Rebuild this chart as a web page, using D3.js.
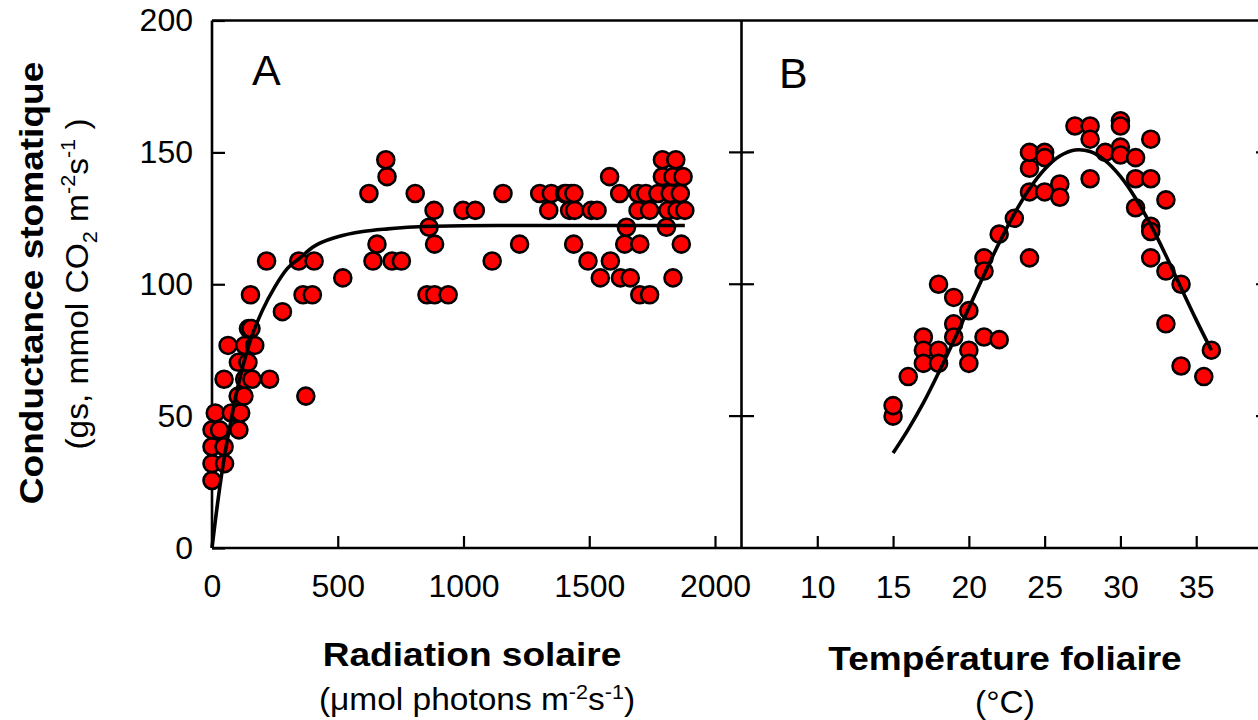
<!DOCTYPE html>
<html lang="fr">
<head>
<meta charset="utf-8">
<title>Conductance stomatique</title>
<script src="https://cdn.jsdelivr.net/npm/d3@7"></script>
<style>
  body { margin: 0; background: #fff; }
  text { font-family: "Liberation Sans", Arial, sans-serif; fill: #000; }
  .frame { stroke: #000; stroke-width: 2.6px; fill: none; }
  .tick line, .crosstick { stroke: #000; stroke-width: 2.2px; }
  .tick text { font-size: 32px; }
  .dot { fill: #ff0000; stroke: #000; stroke-width: 2.6px; }
  .fit { fill: none; stroke: #000; stroke-width: 3.6px; }
  .title { font-weight: bold; font-size: 34px; }
  .sub { font-size: 31px; }
  .panel { font-size: 43px; }
</style>
</head>
<body>
<script>

var width = 1258,
    height = 720;

// axis ticks
var yTicks = [0, 50, 100, 150, 200];
var radTicks = [0, 500, 1000, 1500, 2000];
var tempTicks = [10, 15, 20, 25, 30, 35];
var crossTicks = [50, 100, 150];

// panel A : radiation solaire vs gs
var radPoints = [
  [0,25.6],[0,32],[50,32],[0,38.4],[48,38.4],[0,44.8],[30,44.8],[107,44.8],
  [13,51.2],[77,51.2],[114,51.2],[104,57.6],[127,57.6],[373,57.6],
  [48,64],[130,64],[159,64],[229,64],[105,70.4],[143,70.4],
  [64,76.8],[130,76.8],[170,76.8],[145,83.2],[155,83.2],[280,89.6],
  [153,96],[362,96],[399,96],[855,96],[885,96],[939,96],[1701,96],[1740,96],
  [520,102.4],[1544,102.4],[1624,102.4],[1663,102.4],[1833,102.4],
  [217,108.8],[345,108.8],[406,108.8],[640,108.8],[716,108.8],[753,108.8],[1114,108.8],[1495,108.8],[1584,108.8],
  [656,115.2],[885,115.2],[1223,115.2],[1438,115.2],[1641,115.2],[1701,115.2],[1866,115.2],
  [863,121.6],[1648,121.6],[1807,121.6],
  [883,128],[998,128],[1047,128],[1339,128],[1422,128],[1442,128],[1508,128],[1531,128],
  [1694,128],[1740,128],[1813,128],[1849,128],[1880,128],
  [624,134.4],[808,134.4],[1157,134.4],[1303,134.4],[1349,134.4],[1402,134.4],[1429,134.4],
  [1409,134.4],[1439,134.4],[1621,134.4],[1694,134.4],[1725,134.4],[1773,134.4],[1822,134.4],[1862,134.4],
  [696,140.8],[1581,140.8],[1791,140.8],[1833,140.8],[1873,140.8],
  [691,147.2],[1791,147.2],[1844,147.2]
];

var radFit = [
  [0,0],[25,19],[50,35],[75,48],[100,60],[150,78],[200,90],[250,99],[300,106],
  [350,110],[400,114],[500,118],[600,120],[700,121],[800,121.7],[1000,122.2],
  [1200,122.3],[1500,122.3],[1880,122.3]
];

// panel B : temperature foliaire vs gs
var tempPoints = [
  [15,50],[15,54],[16,65],[17,80],[17,75],[17,70],[18,75],[18,70],[18,100],
  [19,95],[19,85],[19,80],[20,90],[20,75],[20,70],[21,110],[21,105],[21,80],
  [22,79],[22,119],[23,125],[24,110],[24,135],[24,144],[24,150],[25,150],[25,148],
  [25,135],[26,138],[26,133],[27,160],[28,160],[28,155],[28,140],[29,150],
  [30,162],[30,160],[30,152],[30,149],[31,148],[31,140],[31,129],
  [32,155],[32,140],[32,122],[32,120],[32,110],[33,132],[33,105],[33,85],
  [34,100],[34,69],[35.5,65],[36,75]
];

var tempFit = [
  [15,36],[16,45],[17,55],[18,66.4],[19,78.5],[20,91],[21,103.6],[22,115.7],
  [23,126.7],[24,136.2],[25,143.6],[26,148.6],[27,150.9],[28,150.3],[29,146.9],
  [30,140.9],[31,132.6],[32,122.5],[33,110.9],[34,98.6],[35,86.5],[36,75]
];

var svg = d3.select("body")
  .append("svg")
  .attr("width", width)
  .attr("height", height);

svg.append("rect").attr("width", width).attr("height", height).attr("fill", "#fff");

// scales
var y = d3.scaleLinear().domain([0, 200]).range([548, 20.5]);
var xA = d3.scaleLinear().domain([0, 2000]).range([212, 715]);
var xB = d3.scaleLinear().domain([5, 40]).range([741.5, 1272]);

var fmt = d3.format("d");

// axes
svg.append("g")
  .attr("transform", "translate(" + xA(0) + ",0)")
  .call(d3.axisLeft(y).tickValues(yTicks).tickFormat(fmt).tickSizeInner(-13).tickSizeOuter(0).tickPadding(19))
  .call(function(g) { g.select(".domain").remove(); });

svg.append("g")
  .attr("transform", "translate(0," + y(0) + ")")
  .call(d3.axisBottom(xA).tickValues(radTicks).tickFormat(fmt).tickSizeInner(-12).tickSizeOuter(0).tickPadding(26))
  .call(function(g) { g.select(".domain").remove(); });

svg.append("g")
  .attr("transform", "translate(0," + y(0) + ")")
  .call(d3.axisBottom(xB).tickValues(tempTicks).tickFormat(fmt).tickSizeInner(-12).tickSizeOuter(0).tickPadding(27))
  .call(function(g) { g.select(".domain").remove(); });

// ticks crossing the middle and right vertical lines
svg.selectAll(".midtick")
  .data(crossTicks)
  .enter()
  .append("line")
  .attr("class", "crosstick")
  .attr("x1", xB(5) - 12.5)
  .attr("x2", xB(5) + 12.5)
  .attr("y1", function(d) { return y(d); })
  .attr("y2", function(d) { return y(d); });

svg.selectAll(".righttick")
  .data(crossTicks)
  .enter()
  .append("line")
  .attr("class", "crosstick")
  .attr("x1", xB(40) - 16)
  .attr("x2", xB(40) + 12)
  .attr("y1", function(d) { return y(d); })
  .attr("y2", function(d) { return y(d); });

// frame
var xEdges = [xA(0), xB(5), xB(40)];
svg.selectAll(".vline")
  .data(xEdges)
  .enter()
  .append("line")
  .attr("class", "frame")
  .attr("x1", function(d) { return d; })
  .attr("x2", function(d) { return d; })
  .attr("y1", y(0))
  .attr("y2", y(200));

svg.selectAll(".hline")
  .data([0, 200])
  .enter()
  .append("line")
  .attr("class", "frame")
  .attr("x1", xA(0))
  .attr("x2", xB(40))
  .attr("y1", function(d) { return y(d); })
  .attr("y2", function(d) { return y(d); });

// points
svg.append("g")
  .selectAll("circle")
  .data(radPoints)
  .enter()
  .append("circle")
  .attr("class", "dot")
  .attr("cx", function(d) { return xA(d[0]); })
  .attr("cy", function(d) { return y(d[1]); })
  .attr("r", 8.5);

svg.append("g")
  .selectAll("circle")
  .data(tempPoints)
  .enter()
  .append("circle")
  .attr("class", "dot")
  .attr("cx", function(d) { return xB(d[0]); })
  .attr("cy", function(d) { return y(d[1]); })
  .attr("r", 8.5);

// fitted curves
var lineA = d3.line()
  .x(function(d) { return xA(d[0]); })
  .y(function(d) { return y(d[1]); })
  .curve(d3.curveMonotoneX);

var lineB = d3.line()
  .x(function(d) { return xB(d[0]); })
  .y(function(d) { return y(d[1]); })
  .curve(d3.curveCatmullRom);

svg.append("path").attr("class", "fit").attr("d", lineA(radFit));
svg.append("path").attr("class", "fit").attr("d", lineB(tempFit));

// panel letters
svg.append("text").attr("class", "panel").attr("x", 252).attr("y", 85).text("A");
svg.append("text").attr("class", "panel").attr("x", 779).attr("y", 88).text("B");

// axis titles
svg.append("text")
  .attr("class", "title")
  .attr("text-anchor", "middle")
  .attr("transform", "translate(43,283) rotate(-90) scale(1.09,1)")
  .text("Conductance stomatique");

var ySub = svg.append("text")
  .attr("class", "sub")
  .attr("text-anchor", "middle")
  .attr("transform", "translate(88,284) rotate(-90) scale(1.08,1)");
ySub.append("tspan").text("(gs, mmol CO");
ySub.append("tspan").attr("dy", 9).attr("font-size", "20px").text("2");
ySub.append("tspan").attr("dy", -9).text(" m");
ySub.append("tspan").attr("dy", -13).attr("font-size", "20px").text("-2");
ySub.append("tspan").attr("dy", 13).text("s");
ySub.append("tspan").attr("dy", -13).attr("font-size", "20px").text("-1");
ySub.append("tspan").attr("dy", 13).text(" )");

svg.append("text")
  .attr("class", "title")
  .attr("text-anchor", "middle")
  .attr("transform", "translate(472,666) scale(1.09,1)")
  .text("Radiation solaire");

var xSub = svg.append("text")
  .attr("class", "sub")
  .attr("text-anchor", "middle")
  .attr("transform", "translate(477,710) scale(1.08,1)");
xSub.append("tspan").text("(\u03bcmol photons m");
xSub.append("tspan").attr("dy", -11).attr("font-size", "20px").text("-2");
xSub.append("tspan").attr("dy", 11).text("s");
xSub.append("tspan").attr("dy", -11).attr("font-size", "20px").text("-1");
xSub.append("tspan").attr("dy", 11).text(")");

svg.append("text")
  .attr("class", "title")
  .attr("text-anchor", "middle")
  .attr("transform", "translate(1005,670) scale(1.09,1)")
  .text("Température foliaire");

svg.append("text")
  .attr("class", "sub")
  .attr("text-anchor", "middle")
  .attr("transform", "translate(1005,713) scale(1.08,1)")
  .text("(°C)");

</script>
</body>
</html>
